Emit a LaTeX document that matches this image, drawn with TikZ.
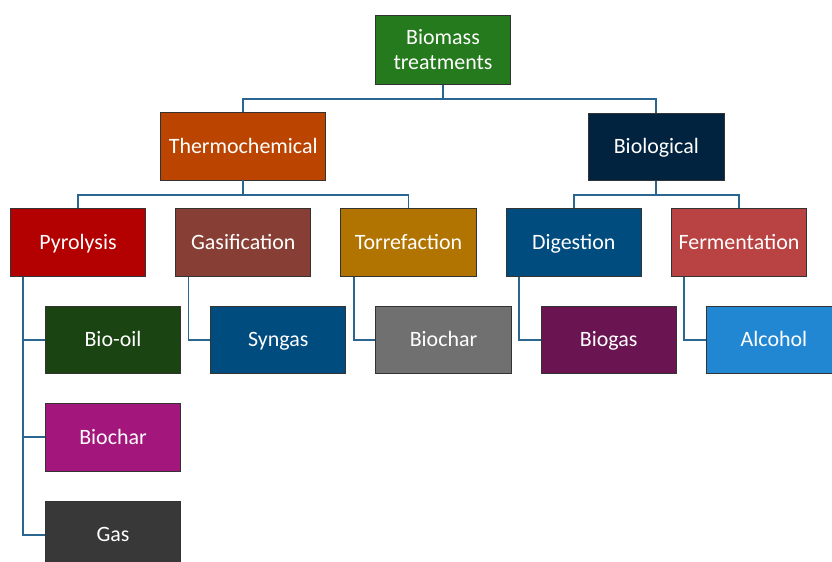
\documentclass[tikz,border=0pt]{standalone}
\usepackage{fontspec}
\setmainfont{Carlito}
\usepackage{tikz}
\usetikzlibrary{positioning,calc}
\definecolor{rootgreen}{HTML}{267A1E}
\definecolor{thermoorange}{HTML}{BB4500}
\definecolor{bionavy}{HTML}{01233F}
\definecolor{pyrored}{HTML}{B30000}
\definecolor{gasibrown}{HTML}{873E35}
\definecolor{torrgold}{HTML}{B27400}
\definecolor{digblue}{HTML}{004C7F}
\definecolor{fermred}{HTML}{B94242}
\definecolor{oilgreen}{HTML}{1A4411}
\definecolor{chargray}{HTML}{707070}
\definecolor{biogaspurple}{HTML}{6A1451}
\definecolor{alcoholblue}{HTML}{2287D3}
\definecolor{charmagenta}{HTML}{A3167C}
\definecolor{gasdark}{HTML}{383838}
\definecolor{linkblue}{HTML}{2A6690}

\begin{document}
\begin{tikzpicture}[node distance=0.73cm]
\tikzstyle{blk}=[draw=black!80,line width=0.6pt,align=center,text=white,minimum width=3.38cm,minimum height=1.68cm,inner sep=2pt,text height=12.8pt,text depth=3pt,font=\fontsize{15.6}{18}\selectfont]
\tikzstyle{link}=[draw=linkblue,line width=1.3pt]
\useasboundingbox (-1.95,-7.9875) rectangle (18.85,6.0625);
% second row: processes
\node[blk,fill=pyrored] (pyro) {Pyrolysis};
\node[blk,fill=gasibrown,right=of pyro] (gasi) {Gasification};
\node[blk,fill=torrgold,right=of gasi] (torr) {Torrefaction};
\node[blk,fill=digblue,right=of torr] (dig) {Digestion};
\node[blk,fill=fermred,right=of dig] (ferm) {Fermentation};
% first row and root
\node[blk,fill=thermoorange,minimum width=4.13cm,above=0.7cm of gasi] (thermo) {Thermochemical};
\node[blk,fill=bionavy,above=0.7cm of $(dig)!0.5!(ferm)$,yshift=0.84cm] (bio) {Biological};
\node[blk,fill=rootgreen,text height=,text depth=,minimum height=1.74cm,above=0.7cm of $(thermo)!0.5!(bio)$,yshift=0.84cm,xshift=-0.17cm] (root) {Biomass\\treatments};
% products
\node[blk,fill=oilgreen,below=0.73cm of pyro,xshift=0.875cm] (oil) {Bio-oil};
\node[blk,fill=charmagenta,below=0.74cm of oil] (char) {Biochar};
\node[blk,fill=gasdark,below=0.74cm of char] (gas) {Gas};
\node[blk,fill=digblue,below=0.73cm of gasi,xshift=0.875cm] (syn) {Syngas};
\node[blk,fill=chargray,below=0.73cm of torr,xshift=0.875cm] (tchar) {Biochar};
\node[blk,fill=biogaspurple,below=0.73cm of dig,xshift=0.875cm] (biogas) {Biogas};
\node[blk,fill=alcoholblue,below=0.73cm of ferm,xshift=0.875cm] (alc) {Alcohol};
% tree links
\draw[link] (root.south) -- ++(0,-0.35) coordinate (rj);
\draw[link] (thermo.north) |- (rj) -| (bio.north);
\draw[link] (thermo.south) -- ++(0,-0.36) coordinate (tj);
\draw[link] (pyro.north) |- (tj) -| (torr.north);
\draw[link] (bio.south) -- ++(0,-0.36) coordinate (bj);
\draw[link] (dig.north) |- (bj) -| (ferm.north);
% product links
\draw[link] ([xshift=0.33cm]pyro.south west) |- (oil.west);
\draw[link] ([xshift=0.33cm]pyro.south west) |- (char.west);
\draw[link] ([xshift=0.33cm]pyro.south west) |- (gas.west);
\draw[link] ([xshift=0.33cm]gasi.south west) |- (syn.west);
\draw[link] ([xshift=0.33cm]torr.south west) |- (tchar.west);
\draw[link] ([xshift=0.33cm]dig.south west) |- (biogas.west);
\draw[link] ([xshift=0.33cm]ferm.south west) |- (alc.west);
\end{tikzpicture}
\end{document}
